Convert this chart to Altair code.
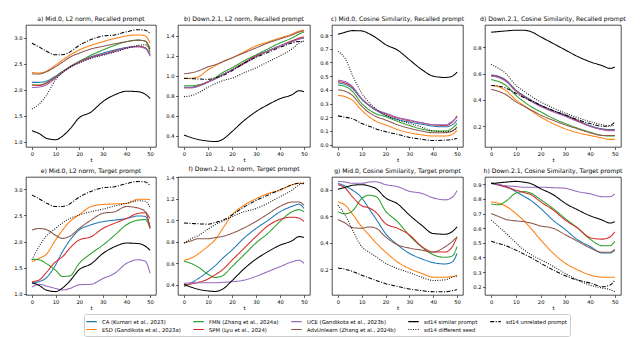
import altair as alt
import pandas as pd

# time steps (x values) shared by all series
T = [0, 3, 6, 10, 13, 16, 20, 25, 30, 35, 40, 45, 48, 50]

LABELS = {
    "CA": "CA (Kumari et al., 2023)",
    "ESD": "ESD (Gandikota et al., 2023a)",
    "FMN": "FMN (Zhang et al., 2024a)",
    "SPM": "SPM (Lyu et al., 2024)",
    "UCE": "UCE (Gandikota et al., 2023b)",
    "ADV": "AdvUnlearn (Zhang et al., 2024b)",
    "SIM": "sd14 similar prompt",
    "SEED": "sd14 different seed",
    "UNREL": "sd14 unrelated prompt",
}
ORDER = ["CA", "ESD", "FMN", "SPM", "UCE", "ADV", "SIM", "SEED", "UNREL"]
COLORS = {"CA": "#1f77b4", "ESD": "#ff7f0e", "FMN": "#2ca02c", "SPM": "#d62728",
          "UCE": "#9467bd", "ADV": "#8c564b", "SIM": "#000000", "SEED": "#000000",
          "UNREL": "#000000"}
DASHES = {"CA": [1, 0], "ESD": [1, 0], "FMN": [1, 0], "SPM": [1, 0], "UCE": [1, 0],
          "ADV": [1, 0], "SIM": [1, 0], "SEED": [0.9, 1.5], "UNREL": [4, 1.5, 1, 1.5]}

SIM_MID = [1.21, 1.16, 1.07, 1.04, 1.11, 1.24, 1.46, 1.57, 1.77, 1.90, 1.97, 1.96, 1.91, 1.83]
UNREL_MID = [2.89, 2.82, 2.74, 2.67, 2.67, 2.72, 2.85, 2.96, 3.03, 3.05, 3.11, 3.15, 3.14, 3.07]
SIM_DOWN = [0.405, 0.38, 0.36, 0.345, 0.34, 0.36, 0.44, 0.55, 0.64, 0.71, 0.77, 0.81, 0.85, 0.84]
UNREL_DOWN = [0.975, 0.972, 0.968, 0.965, 0.98, 1.0, 1.05, 1.125, 1.185, 1.235, 1.285, 1.33, 1.345, 1.34]

A = {
    "CA":  [2.14, 2.14, 2.16, 2.26, 2.35, 2.43, 2.54, 2.63, 2.70, 2.76, 2.81, 2.83, 2.80, 2.67],
    "ESD": [2.33, 2.32, 2.35, 2.47, 2.57, 2.66, 2.76, 2.85, 2.92, 2.98, 3.03, 3.05, 3.03, 2.89],
    "FMN": [2.09, 2.09, 2.13, 2.25, 2.35, 2.44, 2.54, 2.66, 2.76, 2.85, 2.92, 2.95, 2.93, 2.72],
    "SPM": [2.09, 2.08, 2.12, 2.24, 2.34, 2.43, 2.53, 2.62, 2.68, 2.74, 2.80, 2.83, 2.80, 2.66],
    "UCE": [2.04, 2.05, 2.09, 2.22, 2.33, 2.42, 2.52, 2.61, 2.67, 2.73, 2.80, 2.82, 2.79, 2.64],
    "ADV": [2.30, 2.30, 2.34, 2.44, 2.53, 2.62, 2.70, 2.78, 2.83, 2.88, 2.92, 2.95, 2.93, 2.79],
    "SIM": SIM_MID,
    "SEED": [1.63, 1.72, 1.88, 2.19, 2.33, 2.43, 2.51, 2.60, 2.66, 2.72, 2.79, 2.85, 2.86, 2.76],
    "UNREL": UNREL_MID,
}
B = {
    "CA":  [0.885, 0.885, 0.90, 0.94, 0.97, 1.01, 1.06, 1.13, 1.20, 1.25, 1.30, 1.35, 1.37, 1.38],
    "ESD": [0.976, 0.976, 0.99, 1.06, 1.10, 1.14, 1.18, 1.24, 1.30, 1.34, 1.38, 1.42, 1.45, 1.46],
    "FMN": [0.90, 0.90, 0.91, 0.94, 0.98, 1.03, 1.08, 1.15, 1.21, 1.27, 1.33, 1.38, 1.42, 1.44],
    "SPM": [0.88, 0.88, 0.90, 0.94, 0.97, 1.01, 1.06, 1.13, 1.20, 1.25, 1.30, 1.35, 1.38, 1.39],
    "UCE": [0.88, 0.88, 0.895, 0.935, 0.97, 1.01, 1.06, 1.12, 1.19, 1.25, 1.30, 1.34, 1.37, 1.38],
    "ADV": [1.02, 1.03, 1.05, 1.09, 1.11, 1.14, 1.18, 1.23, 1.28, 1.33, 1.37, 1.41, 1.44, 1.45],
    "SIM": SIM_DOWN,
    "SEED": [0.79, 0.80, 0.83, 0.885, 0.92, 0.95, 0.976, 1.03, 1.08, 1.14, 1.20, 1.27, 1.33, 1.35],
    "UNREL": UNREL_DOWN,
}
C = {
    "CA":  [0.45, 0.44, 0.41, 0.33, 0.285, 0.25, 0.215, 0.185, 0.165, 0.15, 0.135, 0.13, 0.145, 0.18],
    "ESD": [0.36, 0.35, 0.325, 0.25, 0.205, 0.17, 0.145, 0.11, 0.087, 0.072, 0.063, 0.063, 0.075, 0.105],
    "FMN": [0.435, 0.425, 0.39, 0.30, 0.255, 0.225, 0.205, 0.17, 0.14, 0.115, 0.10, 0.10, 0.12, 0.155],
    "SPM": [0.46, 0.45, 0.42, 0.335, 0.29, 0.255, 0.225, 0.195, 0.175, 0.16, 0.145, 0.14, 0.165, 0.21],
    "UCE": [0.47, 0.46, 0.425, 0.335, 0.29, 0.255, 0.23, 0.20, 0.18, 0.16, 0.145, 0.145, 0.17, 0.20],
    "ADV": [0.40, 0.39, 0.36, 0.28, 0.235, 0.205, 0.18, 0.145, 0.12, 0.10, 0.087, 0.087, 0.10, 0.13],
    "SIM": [0.805, 0.82, 0.832, 0.83, 0.81, 0.78, 0.73, 0.69, 0.62, 0.55, 0.50, 0.49, 0.50, 0.53],
    "SEED": [0.68, 0.63, 0.51, 0.375, 0.31, 0.26, 0.215, 0.18, 0.155, 0.13, 0.10, 0.095, 0.10, 0.12],
    "UNREL": [0.21, 0.20, 0.19, 0.155, 0.135, 0.115, 0.095, 0.075, 0.053, 0.04, 0.03, 0.033, 0.038, 0.045],
}
D = {
    "CA":  [0.59, 0.58, 0.55, 0.475, 0.435, 0.40, 0.36, 0.32, 0.285, 0.245, 0.205, 0.18, 0.175, 0.175],
    "ESD": [0.51, 0.50, 0.47, 0.40, 0.36, 0.32, 0.27, 0.22, 0.18, 0.15, 0.13, 0.11, 0.10, 0.10],
    "FMN": [0.555, 0.54, 0.51, 0.435, 0.39, 0.35, 0.31, 0.26, 0.22, 0.185, 0.155, 0.13, 0.125, 0.125],
    "SPM": [0.585, 0.575, 0.545, 0.47, 0.43, 0.395, 0.355, 0.315, 0.28, 0.24, 0.20, 0.175, 0.17, 0.17],
    "UCE": [0.58, 0.57, 0.54, 0.465, 0.425, 0.39, 0.35, 0.31, 0.275, 0.235, 0.20, 0.175, 0.165, 0.165],
    "ADV": [0.48, 0.465, 0.44, 0.385, 0.355, 0.325, 0.285, 0.245, 0.21, 0.18, 0.15, 0.13, 0.13, 0.13],
    "SIM": [0.915, 0.92, 0.925, 0.93, 0.93, 0.92, 0.88, 0.83, 0.78, 0.73, 0.69, 0.66, 0.64, 0.65],
    "SEED": [0.67, 0.64, 0.60, 0.51, 0.47, 0.43, 0.385, 0.34, 0.30, 0.265, 0.235, 0.21, 0.20, 0.21],
    "UNREL": [0.51, 0.505, 0.49, 0.45, 0.42, 0.395, 0.36, 0.32, 0.285, 0.25, 0.22, 0.20, 0.205, 0.23],
}
E = {
    "CA":  [1.20, 1.23, 1.30, 1.55, 1.81, 2.02, 2.22, 2.32, 2.38, 2.41, 2.44, 2.49, 2.48, 2.28],
    "ESD": [1.61, 1.68, 1.75, 2.03, 2.22, 2.38, 2.51, 2.67, 2.71, 2.72, 2.73, 2.81, 2.81, 2.80],
    "FMN": [1.66, 1.65, 1.58, 1.45, 1.33, 1.34, 1.58, 1.77, 1.93, 2.12, 2.32, 2.41, 2.42, 2.25],
    "SPM": [1.23, 1.26, 1.40, 1.61, 1.71, 1.87, 2.03, 2.09, 2.25, 2.35, 2.44, 2.54, 2.55, 2.25],
    "UCE": [1.13, 1.18, 1.15, 1.10, 1.07, 1.10, 1.17, 1.18, 1.29, 1.39, 1.58, 1.65, 1.62, 1.39],
    "ADV": [2.22, 2.25, 2.23, 2.12, 2.06, 2.10, 2.25, 2.41, 2.54, 2.57, 2.67, 2.64, 2.57, 2.44],
    "SIM": SIM_MID,
    "SEED": [1.65, 1.90, 2.10, 2.25, 2.36, 2.44, 2.51, 2.57, 2.62, 2.68, 2.73, 2.78, 2.77, 2.64],
    "UNREL": UNREL_MID,
}
F = {
    "CA":  [0.385, 0.42, 0.46, 0.525, 0.58, 0.645, 0.725, 0.835, 0.925, 1.00, 1.08, 1.13, 1.15, 1.11],
    "ESD": [0.63, 0.65, 0.69, 0.76, 0.82, 0.92, 1.05, 1.14, 1.20, 1.25, 1.28, 1.33, 1.345, 1.345],
    "FMN": [0.62, 0.60, 0.565, 0.50, 0.47, 0.485, 0.57, 0.68, 0.79, 0.88, 0.99, 1.08, 1.10, 1.08],
    "SPM": [0.40, 0.41, 0.425, 0.455, 0.495, 0.54, 0.63, 0.74, 0.85, 0.95, 1.01, 1.03, 1.02, 0.99],
    "UCE": [0.415, 0.42, 0.42, 0.42, 0.42, 0.425, 0.43, 0.445, 0.48, 0.525, 0.57, 0.615, 0.63, 0.60],
    "ADV": [0.79, 0.81, 0.83, 0.83, 0.84, 0.85, 0.88, 0.93, 0.99, 1.06, 1.13, 1.17, 1.17, 1.14],
    "SIM": SIM_DOWN,
    "SEED": [0.79, 0.83, 0.86, 0.92, 0.96, 0.99, 1.035, 1.08, 1.11, 1.16, 1.22, 1.28, 1.33, 1.35],
    "UNREL": UNREL_DOWN,
}
G = {
    "CA":  [0.85, 0.83, 0.80, 0.74, 0.66, 0.58, 0.47, 0.385, 0.32, 0.28, 0.25, 0.24, 0.255, 0.32],
    "ESD": [0.71, 0.685, 0.62, 0.52, 0.46, 0.40, 0.33, 0.255, 0.205, 0.17, 0.14, 0.14, 0.145, 0.155],
    "FMN": [0.635, 0.62, 0.64, 0.735, 0.76, 0.75, 0.64, 0.56, 0.455, 0.37, 0.31, 0.29, 0.30, 0.37],
    "SPM": [0.84, 0.815, 0.75, 0.68, 0.665, 0.63, 0.545, 0.51, 0.46, 0.375, 0.33, 0.33, 0.37, 0.445],
    "UCE": [0.865, 0.86, 0.85, 0.85, 0.86, 0.862, 0.84, 0.825, 0.79, 0.775, 0.74, 0.725, 0.745, 0.795],
    "ADV": [0.575, 0.55, 0.515, 0.51, 0.52, 0.51, 0.445, 0.385, 0.36, 0.345, 0.33, 0.37, 0.41, 0.445],
    "SIM": [0.805, 0.82, 0.835, 0.84, 0.83, 0.81, 0.74, 0.695, 0.61, 0.535, 0.47, 0.465, 0.485, 0.52],
    "SEED": [0.685, 0.61, 0.50, 0.37, 0.33, 0.295, 0.245, 0.205, 0.175, 0.14, 0.115, 0.12, 0.14, 0.15],
    "UNREL": [0.21, 0.20, 0.185, 0.155, 0.135, 0.115, 0.09, 0.07, 0.05, 0.038, 0.03, 0.03, 0.038, 0.045],
}
H = {
    "CA":  [0.905, 0.895, 0.885, 0.85, 0.82, 0.79, 0.735, 0.655, 0.59, 0.52, 0.475, 0.43, 0.43, 0.45],
    "ESD": [0.78, 0.77, 0.75, 0.70, 0.655, 0.60, 0.52, 0.43, 0.36, 0.315, 0.28, 0.265, 0.265, 0.265],
    "FMN": [0.765, 0.76, 0.785, 0.84, 0.85, 0.84, 0.795, 0.735, 0.665, 0.60, 0.525, 0.48, 0.48, 0.51],
    "SPM": [0.91, 0.895, 0.88, 0.86, 0.845, 0.83, 0.78, 0.725, 0.655, 0.60, 0.535, 0.525, 0.54, 0.575],
    "UCE": [0.91, 0.90, 0.89, 0.885, 0.88, 0.88, 0.88, 0.877, 0.873, 0.85, 0.835, 0.815, 0.815, 0.835],
    "ADV": [0.70, 0.68, 0.66, 0.65, 0.645, 0.635, 0.615, 0.60, 0.555, 0.51, 0.465, 0.435, 0.435, 0.455],
    "SIM": [0.905, 0.91, 0.915, 0.92, 0.915, 0.905, 0.87, 0.83, 0.77, 0.725, 0.685, 0.655, 0.635, 0.645],
    "SEED": [0.655, 0.61, 0.565, 0.50, 0.455, 0.42, 0.385, 0.34, 0.29, 0.245, 0.21, 0.19, 0.18, 0.165],
    "UNREL": [0.51, 0.495, 0.48, 0.45, 0.425, 0.40, 0.36, 0.315, 0.275, 0.245, 0.225, 0.20, 0.21, 0.245],
}

TITLES = [
    "a) Mid.0, L2 norm, Recalled prompt",
    "b) Down.2.1, L2 norm, Recalled prompt",
    "c) Mid.0, Cosine Similarity, Recalled prompt",
    "d) Down.2.1, Cosine Similarity, Recalled prompt",
    "e) Mid.0, L2 norm, Target prompt",
    "f) Down.2.1, L2 norm, Target prompt",
    "g) Mid.0, Cosine Similarity, Target prompt",
    "h) Down.2.1, Cosine Similarity, Target prompt",
]
Y_DOMAINS = [[0.90, 3.24], [0.285, 1.51], [-0.017, 0.873], [0.042, 0.97],
             [0.975, 3.236], [0.307, 1.403], [0.005, 0.898], [0.143, 0.95]]
Y_TICKS = [[1.0, 1.5, 2.0, 2.5, 3.0], [0.4, 0.6, 0.8, 1.0, 1.2, 1.4],
           [0.0, 0.1, 0.2, 0.3, 0.4, 0.5, 0.6, 0.7, 0.8], [0.2, 0.4, 0.6, 0.8],
           [1.0, 1.5, 2.0, 2.5, 3.0], [0.4, 0.6, 0.8, 1.0, 1.2, 1.4],
           [0.0, 0.2, 0.4, 0.6, 0.8], [0.2, 0.3, 0.4, 0.5, 0.6, 0.7, 0.8, 0.9]]
X_TICKS = [0, 10, 20, 30, 40, 50]
WIDTHS = [130, 132, 131, 136]
HEIGHTS = [122, 118]

dom = [LABELS[k] for k in ORDER]
col_range = [COLORS[k] for k in ORDER]
dash_range = [DASHES[k] for k in ORDER]

legend = alt.Legend(
    title=None, orient="none", legendX=58, legendY=289, columns=5, direction="vertical",
    symbolType="M-1.5,0H1.5", symbolSize=49, symbolStrokeWidth=1.1,
    labelFontSize=5.3, labelFont="DejaVu Sans", labelColor="black",
    columnPadding=10, rowPadding=0, padding=3, labelOffset=6,
    strokeColor="#cccccc", fillColor="white", cornerRadius=2, labelLimit=300,
)


def panel(data, idx):
    rows = []
    for key, vals in data.items():
        for t, v in zip(T, vals):
            rows.append({"t": t, "v": v, "m": LABELS[key]})
    df = pd.DataFrame(rows)
    return alt.Chart(df, title=alt.TitleParams(TITLES[idx])).mark_line(
        strokeWidth=1.05, interpolate="monotone", clip=True
    ).encode(
        x=alt.X("t:Q", scale=alt.Scale(domain=[-2.5, 52.5], nice=False, zero=False),
                axis=alt.Axis(values=X_TICKS, format="d", title="t")),
        y=alt.Y("v:Q", scale=alt.Scale(domain=Y_DOMAINS[idx], nice=False, zero=False),
                axis=alt.Axis(values=Y_TICKS[idx], format=".1f", title=None)),
        color=alt.Color("m:N", scale=alt.Scale(domain=dom, range=col_range), legend=legend),
        strokeDash=alt.StrokeDash("m:N", scale=alt.Scale(domain=dom, range=dash_range), legend=legend),
    ).properties(width=WIDTHS[idx % 4], height=HEIGHTS[idx // 4])


data_list = [A, B, C, D, E, F, G, H]
charts = [panel(d, i) for i, d in enumerate(data_list)]

chart = alt.concat(
    *charts, columns=4, spacing={"row": 30, "column": 22}, bounds="flush", align="each"
).resolve_scale(
    x="independent", y="independent"
).properties(
    padding={"left": 5, "top": 7, "right": 0, "bottom": 0}
).configure(
    font="DejaVu Sans"
).configure_view(
    stroke="black", strokeWidth=0.7
).configure_axis(
    labelFontSize=5.2, titleFontSize=5.4, labelColor="black", titleColor="black",
    tickColor="black", tickSize=2.5, tickWidth=0.6, domain=False, grid=False,
    labelPadding=1.5, titlePadding=1, titleFontWeight="normal", labelFont="DejaVu Sans",
    titleFont="DejaVu Sans"
).configure_title(
    fontSize=6.1, fontWeight="normal", offset=3, color="black", font="DejaVu Sans", anchor="middle"
)

chart.save("out.html", embed_options={"renderer": "svg", "actions": False})
